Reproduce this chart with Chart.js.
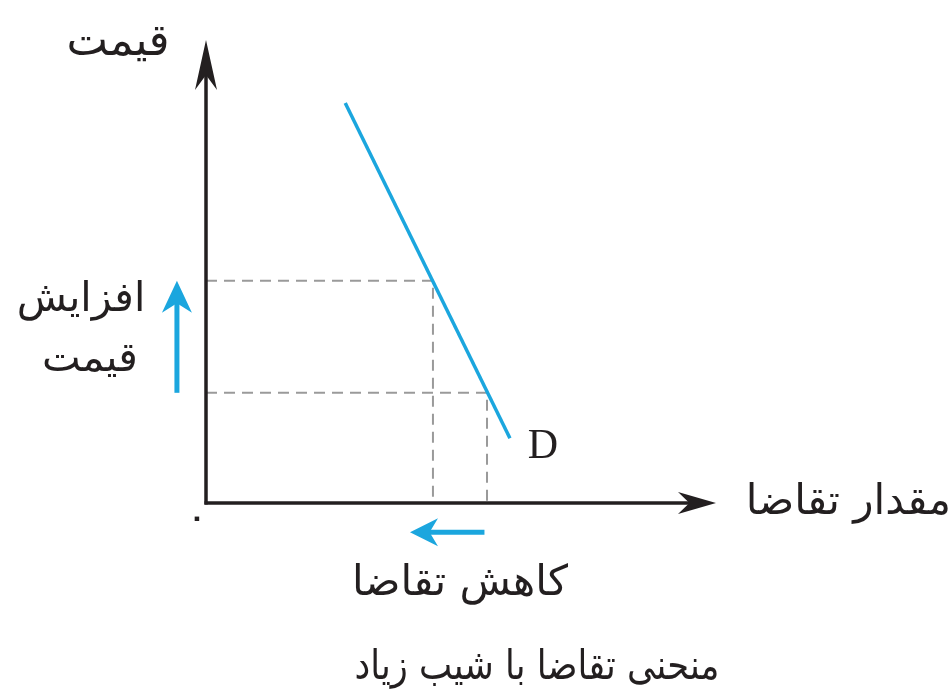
<!DOCTYPE html>
<html>
<head>
<meta charset="utf-8">
<script src="https://cdn.jsdelivr.net/npm/chart.js@4.4.1/dist/chart.umd.min.js"></script>
<style>
  html, body { margin: 0; padding: 0; background: #fff; }
  #wrap { width: 950px; height: 699px; }
</style>
</head>
<body>
<div id="wrap"><canvas id="demandChart"></canvas></div>
<script>
// demand curve end points (quantity, price)
const demandQty = [2.73, 5.96];
const demandPrice = [8.64, 1.40];
// the two price levels and the quantities they give
const priceLevels = [4.8, 2.38];
const qtyLevels = [4.45, 5.51];

const axisMax = 10;
const ink = '#231f20';
const blue = '#1ba6de';
const fontFa = '"DejaVu Sans", sans-serif';

// draws axes with arrow heads, the blue arrows and all the text
const diagramPlugin = {
    id: 'diagram',
    afterDatasetsDraw: function(chart) {
        const ctx = chart.ctx;
        const xs = chart.scales.x, ys = chart.scales.y;
        const x0 = xs.getPixelForValue(0), y0 = ys.getPixelForValue(0);
        const xEnd = xs.getPixelForValue(axisMax), yEnd = ys.getPixelForValue(axisMax);

        function arrow(x1, y1, x2, y2, color, width, headLen, headW) {
            const ang = Math.atan2(y2 - y1, x2 - x1);
            ctx.save();
            ctx.strokeStyle = color;
            ctx.fillStyle = color;
            ctx.lineWidth = width;
            ctx.beginPath();
            ctx.moveTo(x1, y1);
            ctx.lineTo(x2 - Math.cos(ang) * headLen * 0.6, y2 - Math.sin(ang) * headLen * 0.6);
            ctx.stroke();
            ctx.beginPath();
            ctx.moveTo(x2, y2);
            ctx.lineTo(x2 - Math.cos(ang) * headLen - Math.sin(ang) * headW,
                       y2 - Math.sin(ang) * headLen + Math.cos(ang) * headW);
            ctx.lineTo(x2 - Math.cos(ang) * headLen * 0.7, y2 - Math.sin(ang) * headLen * 0.7);
            ctx.lineTo(x2 - Math.cos(ang) * headLen + Math.sin(ang) * headW,
                       y2 - Math.sin(ang) * headLen - Math.cos(ang) * headW);
            ctx.closePath();
            ctx.fill();
            ctx.restore();
        }

        // axes
        arrow(x0 - 1.5, y0, xEnd, y0, ink, 3.5, 38, 11);
        arrow(x0, y0 + 1.5, x0, yEnd, ink, 3.5, 50, 11);

        // price up arrow and quantity left arrow
        arrow(xs.getPixelForValue(-0.57), ys.getPixelForValue(priceLevels[1]),
              xs.getPixelForValue(-0.57), ys.getPixelForValue(priceLevels[0]), blue, 5, 32, 15);
        arrow(xs.getPixelForValue(qtyLevels[1] - 0.05), ys.getPixelForValue(-0.63),
              xs.getPixelForValue(qtyLevels[0] - 0.45), ys.getPixelForValue(-0.63), blue, 5, 28, 14);

        ctx.save();
        ctx.fillStyle = ink;
        ctx.textAlign = 'center';
        ctx.textBaseline = 'middle';
        ctx.direction = 'rtl';
        ctx.font = '44px ' + fontFa;
        ctx.fillText('قیمت', 118, 44);
        ctx.font = '41px ' + fontFa;
        ctx.fillText('افزایش', 81, 300);
        ctx.fillText('قیمت', 90, 360);
        ctx.font = '42px ' + fontFa;
        ctx.fillText('کاهش تقاضا', 460, 584);
        ctx.textAlign = 'right';
        ctx.fillText('مقدار تقاضا', 951, 503);
        // title: same glyph size but narrower, like the source lettering
        ctx.save();
        ctx.translate(537, 668);
        ctx.scale(0.86, 1);
        ctx.textAlign = 'center';
        ctx.font = '41px ' + fontFa;
        ctx.fillText('منحنی تقاضا با شیب زیاد', 0, 0);
        ctx.restore();
        ctx.textAlign = 'center';
        ctx.font = 'bold 26px ' + fontFa;
        ctx.fillText('۰', x0 - 9, y0 + 16);
        ctx.direction = 'ltr';
        ctx.font = '42px "Liberation Serif", serif';
        ctx.fillText('D', xs.getPixelForValue(demandQty[1]) + 33, ys.getPixelForValue(demandPrice[1]) + 9);
        ctx.restore();
    }
};

const demandData = demandQty.map(function(q, i) { return { x: q, y: demandPrice[i] }; });
const dashA = [{ x: 0, y: priceLevels[0] }, { x: qtyLevels[0], y: priceLevels[0] }, { x: qtyLevels[0], y: 0 }];
const dashB = [{ x: 0, y: priceLevels[1] }, { x: qtyLevels[1], y: priceLevels[1] }, { x: qtyLevels[1], y: 0 }];

const dashStyle = {
    showLine: true, borderColor: '#9a9a9a', borderWidth: 2, borderDash: [11, 7],
    pointRadius: 0, fill: false, order: 2
};

new Chart(document.getElementById('demandChart'), {
    type: 'scatter',
    data: {
        datasets: [
            Object.assign({ label: 'p1', data: dashA }, dashStyle),
            Object.assign({ label: 'p2', data: dashB }, dashStyle),
            {
                label: 'D', data: demandData, showLine: true,
                borderColor: blue, borderWidth: 3.5, pointRadius: 0, order: 1
            }
        ]
    },
    options: {
        responsive: true,
        maintainAspectRatio: false,
        animation: false,
        layout: { padding: { left: 206, right: 234, top: 40, bottom: 196 } },
        plugins: { legend: { display: false }, tooltip: { enabled: false } },
        scales: {
            x: { type: 'linear', min: 0, max: axisMax, display: false },
            y: { type: 'linear', min: 0, max: axisMax, display: false }
        }
    },
    plugins: [diagramPlugin]
});
</script>
</body>
</html>
